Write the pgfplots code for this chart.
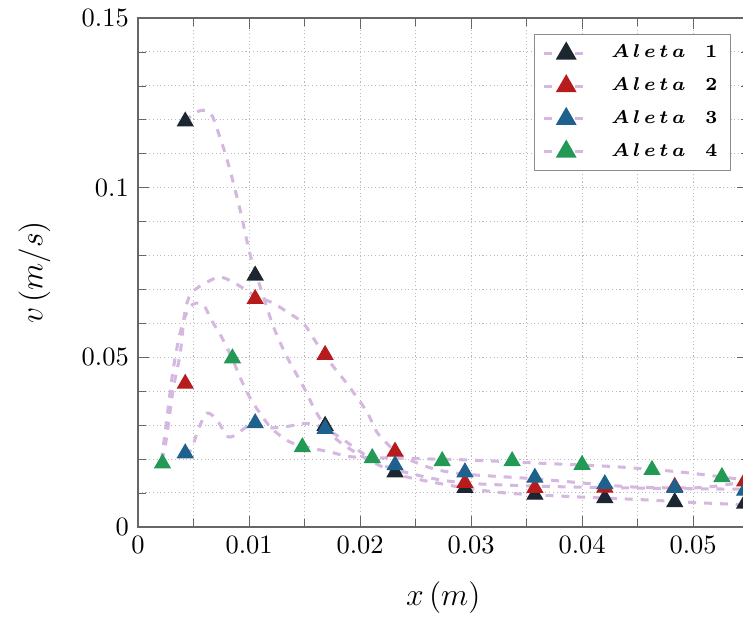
\documentclass[border=0pt]{standalone}
\usepackage{bm}
\usepackage{pgfplots}
\pgfplotsset{compat=1.18}
\definecolor{cA}{HTML}{1B2631}
\definecolor{cB}{HTML}{B71C1C}
\definecolor{cC}{HTML}{1F618D}
\definecolor{cD}{HTML}{229954}
\definecolor{lav}{HTML}{D5B8E0}
\newcommand{\aleta}[1]{$\bm{A\,l\,e\,t\,a}$\hspace{7.5pt}$\bm{#1}$}
\begin{document}
\begin{tikzpicture}
\begin{axis}[name=ax,
  scale only axis, width=230.8pt, height=192.4pt,
  xmin=0, xmax=0.055, ymin=0, ymax=0.15,
  xtick={0,0.01,0.02,0.03,0.04,0.05},
  ytick={0,0.05,0.1,0.15},
  minor x tick num=1, minor y tick num=4,
  scaled ticks=false,
  tick label style={/pgf/number format/fixed, /pgf/number format/precision=2},
  grid=both,
  major grid style={densely dotted, gray!55, line width=0.4pt},
  minor grid style={densely dotted, gray!55, line width=0.4pt},
  axis line style={black!60, line width=0.6pt},
  tick style={black!60},
  xlabel={$x\,(m)$}, ylabel={$v\,(m/s)$},
  xlabel style={font=\large, yshift=-4pt},
  ylabel style={font=\large, yshift=5pt},
  legend style={at={(0.9713,0.9686)}, anchor=north east, draw=black!45,
    font=\scriptsize, row sep=2pt, column sep=6pt},
  legend cell align=left,
]
\addplot[forget plot, color=lav, dashed, line width=1.15pt, smooth] coordinates {
(0.0042,0.1195) (0.0048,0.1212) (0.0055,0.1226) (0.0062,0.1227) (0.0067,0.1210) (0.0071,0.1175) (0.0078,0.1106) (0.0084,0.1037) (0.0093,0.0919) (0.0101,0.0802) (0.0111,0.0698) (0.0122,0.0590) (0.0134,0.0502) (0.0149,0.0413) (0.0161,0.0335) (0.0176,0.0266) (0.0197,0.0217) (0.0215,0.0185) (0.0236,0.0153) (0.0254,0.0139) (0.0296,0.0114) (0.0335,0.0099) (0.0392,0.0089) (0.0455,0.0080) (0.0506,0.0071) (0.0550,0.0065)};
\addplot[forget plot, color=lav, dashed, line width=1.15pt, smooth] coordinates {
(0.0021,0.0195) (0.0024,0.0227) (0.0027,0.0296) (0.0032,0.0413) (0.0038,0.0512) (0.0042,0.0630) (0.0048,0.0689) (0.0063,0.0723) (0.0075,0.0736) (0.0090,0.0713) (0.0104,0.0684) (0.0122,0.0659) (0.0134,0.0634) (0.0149,0.0600) (0.0161,0.0541) (0.0176,0.0472) (0.0188,0.0423) (0.0206,0.0340) (0.0215,0.0280) (0.0227,0.0237) (0.0239,0.0207) (0.0254,0.0185) (0.0270,0.0168) (0.0296,0.0155) (0.0356,0.0142) (0.0416,0.0125) (0.0450,0.0117) (0.0500,0.0115) (0.0525,0.0122) (0.0550,0.0135)};
\addplot[forget plot, color=lav, dashed, line width=1.15pt, smooth] coordinates {
(0.0042,0.0215) (0.0048,0.0227) (0.0054,0.0286) (0.0062,0.0335) (0.0071,0.0315) (0.0081,0.0266) (0.0090,0.0276) (0.0101,0.0300) (0.0118,0.0292) (0.0134,0.0296) (0.0152,0.0305) (0.0165,0.0295) (0.0176,0.0276) (0.0188,0.0250) (0.0200,0.0222) (0.0215,0.0190) (0.0227,0.0174) (0.0242,0.0160) (0.0270,0.0140) (0.0300,0.0128) (0.0360,0.0120) (0.0420,0.0116) (0.0480,0.0113) (0.0550,0.0111)};
\addplot[forget plot, color=lav, dashed, line width=1.15pt, smooth] coordinates {
(0.0021,0.0195) (0.0026,0.0320) (0.0031,0.0450) (0.0037,0.0560) (0.0043,0.0625) (0.0049,0.0655) (0.0055,0.0660) (0.0060,0.0650) (0.0066,0.0610) (0.0075,0.0561) (0.0084,0.0502) (0.0093,0.0433) (0.0102,0.0374) (0.0119,0.0295) (0.0137,0.0250) (0.0155,0.0233) (0.0173,0.0221) (0.0191,0.0207) (0.0227,0.0203) (0.0266,0.0200) (0.0300,0.0197) (0.0360,0.0188) (0.0427,0.0178) (0.0478,0.0165) (0.0512,0.0153) (0.0550,0.0137)};
\addplot[forget plot, only marks, mark=triangle*, mark size=3.4pt, color=cA] coordinates {
(0.00425,0.1195) (0.01055,0.0741) (0.01685,0.0298) (0.02315,0.0161) (0.02945,0.0115) (0.03575,0.0095) (0.04205,0.0085) (0.04835,0.0073) (0.05465,0.0069)};
\addplot[forget plot, only marks, mark=triangle*, mark size=3.4pt, color=cB] coordinates {
(0.00425,0.0422) (0.01055,0.0672) (0.01685,0.0507) (0.02315,0.0222) (0.02945,0.0130) (0.03575,0.0115) (0.04205,0.0116) (0.04835,0.0118) (0.05465,0.0134)};
\addplot[forget plot, only marks, mark=triangle*, mark size=3.4pt, color=cC] coordinates {
(0.00425,0.0217) (0.01055,0.0306) (0.01685,0.0289) (0.02315,0.0182) (0.02945,0.0161) (0.03575,0.0145) (0.04205,0.0126) (0.04835,0.0115) (0.05465,0.0107)};
\addplot[forget plot, only marks, mark=triangle*, mark size=3.4pt, color=cD] coordinates {
(0.0022,0.0187) (0.0085,0.0497) (0.0148,0.0235) (0.0211,0.0203) (0.0274,0.0194) (0.0337,0.0194) (0.0400,0.0183) (0.0463,0.0168) (0.0526,0.0147)};
\addlegendimage{color=lav, dashed, line width=1.15pt, mark=triangle*, mark size=3.4pt, mark options={solid, fill=cA, draw=cA}}
\addlegendentry{\aleta{1}}
\addlegendimage{color=lav, dashed, line width=1.15pt, mark=triangle*, mark size=3.4pt, mark options={solid, fill=cB, draw=cB}}
\addlegendentry{\aleta{2}}
\addlegendimage{color=lav, dashed, line width=1.15pt, mark=triangle*, mark size=3.4pt, mark options={solid, fill=cC, draw=cC}}
\addlegendentry{\aleta{3}}
\addlegendimage{color=lav, dashed, line width=1.15pt, mark=triangle*, mark size=3.4pt, mark options={solid, fill=cD, draw=cD}}
\addlegendentry{\aleta{4}}
\end{axis}
\pgfresetboundingbox
\useasboundingbox ([xshift=-52.2pt,yshift=-35.5pt]ax.south west) rectangle ([xshift=228.7pt,yshift=199.2pt]ax.south west);
\end{tikzpicture}
\end{document}
